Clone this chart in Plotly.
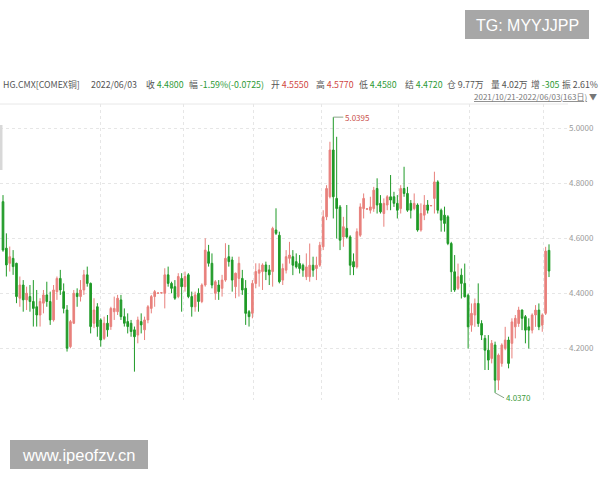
import plotly.graph_objects as go

# OHLC values (163 trading days, 2021/10/21 - 2022/06/03)
opens = [4.732,4.563,4.508,4.526,4.508,4.381,4.429,4.375,4.387,4.369,
         4.350,4.320,4.363,4.393,4.369,4.302,4.405,4.453,4.405,4.338,
         4.205,4.290,4.399,4.387,4.411,4.466,4.435,4.290,4.350,4.302,
         4.235,4.290,4.278,4.332,4.332,4.375,4.314,4.296,4.290,4.266,
         4.247,4.296,4.266,4.302,4.344,4.387,4.399,4.400,4.399,4.466,
         4.435,4.423,4.387,4.453,4.423,4.466,4.387,4.350,4.399,4.369,
         4.429,4.550,4.508,4.399,4.429,4.417,4.447,4.532,4.520,4.423,
         4.453,4.453,4.417,4.332,4.326,4.435,4.472,4.478,4.502,4.484,
         4.478,4.629,4.610,4.447,4.483,4.526,4.532,4.514,4.507,4.501,
         4.459,4.459,4.501,4.489,4.501,4.568,4.677,4.750,4.920,4.744,
         4.713,4.604,4.635,4.604,4.514,4.495,4.610,4.707,4.705,4.701,
         4.707,4.780,4.726,4.689,4.720,4.750,4.750,4.726,4.707,4.780,
         4.762,4.726,4.707,4.720,4.629,4.683,4.720,4.717,4.744,4.804,
         4.701,4.683,4.677,4.580,4.477,4.417,4.465,4.435,4.392,4.283,
         4.320,4.362,4.289,4.235,4.192,4.162,4.211,4.083,4.144,4.199,
         4.229,4.217,4.277,4.289,4.338,4.314,4.277,4.265,4.320,4.338,
         4.283,4.326,4.555]
highs = [4.756,4.617,4.569,4.556,4.510,4.460,4.447,4.423,4.429,4.447,
         4.411,4.381,4.411,4.441,4.405,4.429,4.460,4.484,4.435,4.356,
         4.302,4.411,4.417,4.447,4.484,4.496,4.438,4.381,4.363,4.308,
         4.314,4.320,4.350,4.387,4.393,4.393,4.344,4.326,4.302,4.278,
         4.314,4.326,4.314,4.356,4.393,4.411,4.401,4.402,4.490,4.496,
         4.441,4.447,4.472,4.472,4.478,4.472,4.405,4.405,4.417,4.435,
         4.599,4.575,4.544,4.447,4.447,4.466,4.581,4.575,4.532,4.474,
         4.532,4.484,4.447,4.338,4.447,4.508,4.508,4.508,4.514,4.502,
         4.641,4.708,4.623,4.507,4.556,4.586,4.556,4.544,4.538,4.507,
         4.544,4.580,4.532,4.532,4.586,4.701,4.792,4.950,5.0395,4.968,
         4.720,4.677,4.720,4.610,4.544,4.635,4.726,4.762,4.707,4.750,
         4.786,4.817,4.756,4.744,4.756,4.829,4.768,4.756,4.792,4.859,
         4.786,4.738,4.762,4.726,4.726,4.756,4.738,4.719,4.841,4.810,
         4.707,4.714,4.683,4.586,4.538,4.507,4.489,4.507,4.398,4.362,
         4.380,4.435,4.301,4.247,4.247,4.229,4.223,4.180,4.217,4.277,
         4.241,4.308,4.320,4.350,4.340,4.320,4.308,4.326,4.356,4.362,
         4.326,4.568,4.577]
lows = [4.550,4.460,4.478,4.466,4.363,4.350,4.332,4.338,4.332,4.278,
        4.278,4.278,4.326,4.350,4.284,4.296,4.375,4.393,4.326,4.187,
        4.199,4.287,4.350,4.369,4.393,4.423,4.253,4.272,4.241,4.205,
        4.229,4.241,4.266,4.302,4.320,4.302,4.278,4.253,4.241,4.114,
        4.217,4.253,4.229,4.290,4.326,4.350,4.398,4.398,4.344,4.423,
        4.399,4.375,4.381,4.332,4.405,4.381,4.314,4.332,4.332,4.363,
        4.423,4.496,4.417,4.375,4.375,4.387,4.441,4.496,4.405,4.381,
        4.387,4.393,4.284,4.278,4.308,4.417,4.423,4.411,4.447,4.429,
        4.423,4.611,4.435,4.429,4.471,4.507,4.465,4.489,4.471,4.459,
        4.447,4.441,4.459,4.447,4.495,4.556,4.665,4.744,4.671,4.598,
        4.556,4.568,4.598,4.465,4.465,4.489,4.604,4.671,4.704,4.689,
        4.695,4.689,4.689,4.641,4.701,4.701,4.713,4.671,4.689,4.750,
        4.695,4.671,4.701,4.623,4.623,4.665,4.689,4.716,4.689,4.689,
        4.623,4.623,4.574,4.404,4.404,4.411,4.380,4.384,4.198,4.259,
        4.277,4.277,4.229,4.120,4.120,4.144,4.037,4.047,4.132,4.192,
        4.126,4.162,4.235,4.277,4.265,4.217,4.198,4.253,4.277,4.265,
        4.259,4.320,4.458]
closes = [4.556,4.502,4.532,4.496,4.387,4.429,4.375,4.399,4.369,4.344,
          4.320,4.369,4.393,4.369,4.302,4.411,4.453,4.411,4.344,4.199,
          4.296,4.399,4.387,4.411,4.466,4.435,4.278,4.338,4.278,4.229,
          4.290,4.266,4.344,4.344,4.381,4.314,4.290,4.278,4.260,4.241,
          4.302,4.284,4.302,4.350,4.387,4.405,4.400,4.401,4.466,4.435,
          4.417,4.381,4.460,4.423,4.460,4.387,4.350,4.393,4.369,4.429,
          4.556,4.508,4.429,4.441,4.405,4.447,4.526,4.514,4.447,4.472,
          4.508,4.411,4.326,4.314,4.435,4.478,4.484,4.502,4.478,4.466,
          4.635,4.617,4.441,4.489,4.532,4.538,4.501,4.495,4.489,4.483,
          4.495,4.501,4.483,4.501,4.574,4.677,4.780,4.920,4.750,4.707,
          4.592,4.641,4.604,4.501,4.495,4.623,4.713,4.744,4.706,4.713,
          4.774,4.720,4.695,4.726,4.750,4.738,4.726,4.701,4.780,4.762,
          4.701,4.701,4.726,4.629,4.689,4.720,4.701,4.718,4.804,4.701,
          4.665,4.653,4.580,4.477,4.411,4.459,4.435,4.386,4.277,4.326,
          4.362,4.289,4.247,4.192,4.156,4.217,4.083,4.174,4.211,4.229,
          4.144,4.295,4.308,4.338,4.308,4.265,4.265,4.320,4.338,4.277,
          4.320,4.5525,4.480]

y_ticks = [4.2, 4.4, 4.6, 4.8, 5.0]
idx = list(range(len(opens)))

# layout geometry (pixels)
W, H = 600, 480
ML, MR, MT, MB = 0, 32, 104, 80
PW, PH = W - ML - MR, H - MT - MB
px_per = 546 / (len(opens) - 1)

def px2i(px):
    return (px - 3) / px_per

def xp(px):
    return (px - ML) / PW

def yp(py):
    return (H - MB - py) / PH

grid_px = [100, 183, 253, 321, 398, 469, 543]

fig = go.Figure(go.Candlestick(
    x=idx, open=opens, high=highs, low=lows, close=closes,
    increasing=dict(line=dict(color="#e8807c", width=1), fillcolor="#e8807c"),
    decreasing=dict(line=dict(color="#1f9a27", width=1), fillcolor="#1f9a27"),
    hoverinfo="skip",
))

fig.update_layout(
    width=W, height=H,
    margin=dict(l=ML, r=MR, t=MT, b=MB),
    paper_bgcolor="white", plot_bgcolor="white",
    showlegend=False,
    font=dict(family="Noto Sans CJK SC, Noto Sans, sans-serif"),
    xaxis=dict(
        range=[px2i(0), px2i(PW)],
        rangeslider=dict(visible=False),
        tickvals=[px2i(p) for p in grid_px],
        showticklabels=False, ticks="",
        showgrid=True, gridcolor="#e6e6e6", griddash="dot", gridwidth=1,
        zeroline=False, showline=False,
    ),
    yaxis=dict(
        side="right",
        range=[5.0 - (400 - 128) / 275, 5.0 + (128 - 104) / 275],
        tickvals=y_ticks, tickformat=".4f",
        tickfont=dict(size=8, color="#9a9a9a", family="Noto Sans CJK SC"),
        ticks="", showgrid=True, gridcolor="#e6e6e6", griddash="dot",
        zeroline=False, showline=False,
    ),
)

shapes = []
# top border line of plot
shapes.append(dict(type="line", xref="paper", yref="paper", x0=0, x1=1, y0=1, y1=1,
                   line=dict(color="#e8e8e8", width=1)))
# small scroll marker at left edge
shapes.append(dict(type="rect", xref="paper", yref="paper", x0=xp(0), x1=xp(2.5),
                   y0=yp(170), y1=yp(125), fillcolor="#d8d8d8", line=dict(width=0)))
# watermark boxes
shapes.append(dict(type="rect", xref="paper", yref="paper", x0=xp(465), x1=xp(589),
                   y0=yp(39), y1=yp(10), fillcolor="#a7a7a7", line=dict(width=0)))
shapes.append(dict(type="rect", xref="paper", yref="paper", x0=xp(10), x1=xp(148),
                   y0=yp(469), y1=yp(440), fillcolor="#a7a7a7", line=dict(width=0)))
fig.update_layout(shapes=shapes)

GRAY = "#555555"
GREEN = "#2e9a36"
RED = "#d0463f"

def span(t, c):
    return f"<span style='color:{c}'>{t}</span>"

header = [
    (2, "HG.CMX[COMEX铜]", "left"),
    (90, "2022/06/03", "left"),
    (145, "收 " + span("4.4800", GREEN), "left"),
    (188, "幅 " + span("-1.59%(-0.0725)", GREEN), "left"),
    (270, "开 " + span("4.5550", RED), "left"),
    (315, "高 " + span("4.5770", RED), "left"),
    (358, "低 " + span("4.4580", GREEN), "left"),
    (404, "结 " + span("4.4720", GREEN), "left"),
    (446, "仓 " + "9.77万", "left"),
    (490, "量 " + "4.02万", "left"),
    (530, "增 " + span("-305", GREEN), "left"),
    (599, "振 " + "2.61%", "right"),
]
ann = []
for x, t, anc in header:
    ann.append(dict(text=t, xref="paper", yref="paper", x=xp(x), y=yp(85),
                    xanchor=anc, yanchor="middle", showarrow=False, borderpad=0,
                    font=dict(size=8.8, color=GRAY, family="Noto Sans CJK SC")))
ann.append(dict(text="<u>2021/10/21-2022/06/03(163日)</u> ▼", xref="paper", yref="paper",
                x=xp(472), y=yp(97), xanchor="left", yanchor="middle", showarrow=False,
                font=dict(size=8, color="#777777", family="Noto Sans CJK SC")))

# max / min labels from data
imax = max(idx, key=lambda i: highs[i])
imin = min(idx, key=lambda i: lows[i])
ann.append(dict(text=f"{highs[imax]:.4f}", x=imax, y=highs[imax], xref="x", yref="y",
                showarrow=True, arrowhead=0, arrowwidth=1, arrowcolor="#8aa58a",
                ax=10, ay=0, xanchor="left", yanchor="middle",
                font=dict(size=8, color="#c9504a", family="Noto Sans CJK SC")))
ann.append(dict(text=f"{lows[imin]:.4f}", x=imin, y=lows[imin], xref="x", yref="y",
                showarrow=True, arrowhead=0, arrowwidth=1, arrowcolor="#8aa58a",
                ax=9, ay=5, xanchor="left", yanchor="middle",
                font=dict(size=8, color="#3a9a3a", family="Noto Sans CJK SC")))

# watermarks
ann.append(dict(text="TG: MYYJJPP", xref="paper", yref="paper", x=xp(527), y=yp(25),
                xanchor="center", yanchor="middle", showarrow=False,
                font=dict(size=16, color="white", family="Liberation Sans")))
ann.append(dict(text="www.ipeofzv.cn", xref="paper", yref="paper", x=xp(79), y=yp(455),
                xanchor="center", yanchor="middle", showarrow=False,
                font=dict(size=16.5, color="white", family="Liberation Sans")))
fig.update_layout(annotations=ann)

fig.write_html("out.html", config={"displayModeBar": False},
               post_script="document.body.style.margin='0';document.body.style.overflow='hidden';")
